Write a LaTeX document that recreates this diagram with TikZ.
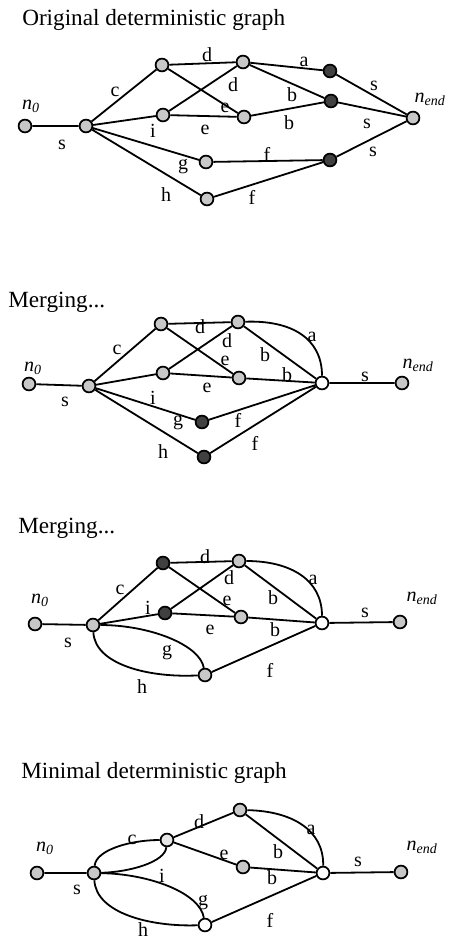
\documentclass[tikz,border=0pt]{standalone}
\usepackage{fontspec}
\setmainfont{Liberation Serif}
\definecolor{lgray}{HTML}{C8C8C8}
\definecolor{dgray}{HTML}{404040}
\definecolor{vlgray}{HTML}{E6E6E6}
\begin{document}
\begin{tikzpicture}[x=0.75pt,y=-0.75pt,
  nd/.style={circle,draw=black,line width=1.3pt,minimum size=9.6pt,inner sep=0pt,fill=lgray},
  dk/.style={nd,fill=dgray},
  wh/.style={nd,fill=white},
  vl/.style={nd,fill=vlgray},
  ed/.style={line width=1.35pt,black},
  lbl/.style={inner sep=0pt,font=\fontsize{15}{15}\selectfont},
  ttl/.style={inner sep=0pt,anchor=base west,font=\fontsize{17.4}{19}\selectfont}]
\useasboundingbox (0,0) rectangle (456,941);
\newcommand{\nzero}{\textit{n}\textsubscript{\textit{0}}}
\newcommand{\nend}{\textit{n}\textsubscript{\textit{end}}}

% ---------------- Panel 1
\node[ttl] (t1) at (22,26) {Original deterministic graph};
\node[nd] (a0) at (25,126) {};
\node[nd] (aA) at (86,126) {};
\node[nd] (aB) at (162,65) {};
\node[nd] (aC) at (163,115) {};
\node[nd] (aD) at (243,62) {};
\node[nd] (aE) at (244,117) {};
\node[dk] (aF) at (330,71) {};
\node[dk] (aG) at (331,101) {};
\node[nd] (aH) at (206,162) {};
\node[nd] (aI) at (207,199) {};
\node[dk] (aJ) at (330,160) {};
\node[nd] (aN) at (413,118) {};
\draw[ed] (a0)--(aA) (aA)--(aB) (aA)--(aC) (aA)--(aH) (aA)--(aI)
  (aB)--(aD) (aB)--(aE) (aC)--(aD) (aC)--(aE) (aD)--(aF) (aD)--(aG)
  (aE)--(aG) (aH)--(aJ) (aI)--(aJ) (aF)--(aN) (aG)--(aN) (aJ)--(aN);
\node[lbl] (la1) at (31,106) {\nzero};
\node[lbl] (la2) at (430,99) {\nend};
\node[lbl] (la3) at (62,145) {s};
\node[lbl] (la4) at (115,92) {c};
\node[lbl] (la5) at (153,131) {i};
\node[lbl] (la6) at (183,167) {g};
\node[lbl] (la7) at (166,195) {h};
\node[lbl] (la8) at (207,55) {d};
\node[lbl] (la9) at (225,108) {e};
\node[lbl] (la10) at (233,85) {d};
\node[lbl] (la11) at (205,130) {e};
\node[lbl] (la12) at (304,62) {a};
\node[lbl] (la13) at (292,95) {b};
\node[lbl] (la14) at (289,123) {b};
\node[lbl] (la15) at (267,154) {f};
\node[lbl] (la16) at (252,197) {f};
\node[lbl] (la17) at (374,86) {s};
\node[lbl] (la18) at (367,124) {s};
\node[lbl] (la19) at (373,152) {s};

% ---------------- Panel 2
\node[ttl] (t2) at (8,307) {Merging...};
\node[nd] (b0) at (29,384) {};
\node[nd] (bA) at (89,386) {};
\node[nd] (bB) at (161,324) {};
\node[nd] (bC) at (163,373) {};
\node[nd] (bD) at (238,322) {};
\node[nd] (bE) at (239,378) {};
\node[dk] (bG) at (202,422) {};
\node[dk] (bI) at (204,457) {};
\node[wh] (bK) at (322,383) {};
\node[nd] (bN) at (402,383) {};
\draw[ed] (b0)--(bA) (bA)--(bB) (bA)--(bC) (bA)--(bG) (bA)--(bI)
  (bB)--(bD) (bB)--(bE) (bC)--(bD) (bC)--(bE) (bD)--(bK) (bE)--(bK)
  (bG)--(bK) (bI)--(bK) (bK)--(bN);
\draw[ed] (bD) .. controls (291,320) and (322,338) .. (bK);
\node[lbl] (lb1) at (33,368) {\nzero};
\node[lbl] (lb2) at (418,365) {\nend};
\node[lbl] (lb3) at (65,402) {s};
\node[lbl] (lb4) at (117,350) {c};
\node[lbl] (lb5) at (200,327) {d};
\node[lbl] (lb6) at (227,341) {d};
\node[lbl] (lb7) at (225,361) {e};
\node[lbl] (lb8) at (207,388) {e};
\node[lbl] (lb9) at (153,398) {i};
\node[lbl] (lb10) at (178,423) {g};
\node[lbl] (lb11) at (163,452) {h};
\node[lbl] (lb12) at (265,355) {b};
\node[lbl] (lb13) at (287,375) {b};
\node[lbl] (lb14) at (312,337) {a};
\node[lbl] (lb15) at (238,420) {f};
\node[lbl] (lb16) at (255,443) {f};
\node[lbl] (lb17) at (365,377) {s};

% ---------------- Panel 3
\node[ttl] (t3) at (18,533) {Merging...};
\node[nd] (c0) at (35,624) {};
\node[nd] (cA) at (93,625) {};
\node[dk] (cB) at (163,563) {};
\node[dk] (cC) at (165,613) {};
\node[nd] (cD) at (239,561) {};
\node[nd] (cE) at (241,617) {};
\node[wh] (cK) at (322,623) {};
\node[nd] (cN) at (400,622) {};
\node[nd] (cI) at (205,675) {};
\draw[ed] (c0)--(cA) (cA)--(cB) (cA)--(cC) (cB)--(cD) (cB)--(cE)
  (cC)--(cD) (cC)--(cE) (cD)--(cK) (cE)--(cK) (cI)--(cK) (cK)--(cN);
\draw[ed] (cD) .. controls (291,561) and (322,580) .. (cK);
\draw[ed] (cA) .. controls (150,625) and (200,645) .. (cI);
\draw[ed] (cA) .. controls (95,665) and (150,678) .. (cI);
\node[lbl] (lc1) at (40,600) {\nzero};
\node[lbl] (lc2) at (422,598) {\nend};
\node[lbl] (lc3) at (68,643) {s};
\node[lbl] (lc4) at (120,590) {c};
\node[lbl] (lc5) at (148,608) {i};
\node[lbl] (lc6) at (205,557) {d};
\node[lbl] (lc7) at (229,578) {d};
\node[lbl] (lc8) at (227,601) {e};
\node[lbl] (lc9) at (210,630) {e};
\node[lbl] (lc10) at (273,598) {b};
\node[lbl] (lc11) at (275,630) {b};
\node[lbl] (lc12) at (313,580) {a};
\node[lbl] (lc13) at (167,653) {g};
\node[lbl] (lc14) at (142,687) {h};
\node[lbl] (lc15) at (270,670) {f};
\node[lbl] (lc16) at (365,613) {s};

% ---------------- Panel 4
\node[ttl] (t4) at (21,778) {Minimal deterministic graph};
\node[nd] (d0) at (37,873) {};
\node[nd] (dA) at (94,873) {};
\node[vl] (dC) at (167,840) {};
\node[nd] (dD) at (240,810) {};
\node[nd] (dE) at (243,867) {};
\node[wh] (dK) at (323,873) {};
\node[nd] (dN) at (401,872) {};
\node[wh] (dI) at (205,925) {};
\draw[ed] (d0)--(dA) (dC)--(dD) (dC)--(dE) (dD)--(dK) (dE)--(dK)
  (dI)--(dK) (dK)--(dN);
\draw[ed] (dA) .. controls (96,850) and (130,840) .. (dC);
\draw[ed] (dA) .. controls (130,872) and (165,862) .. (dC);
\draw[ed] (dD) .. controls (292,811) and (324,830) .. (dK);
\draw[ed] (dA) .. controls (150,874) and (200,893) .. (dI);
\draw[ed] (dA) .. controls (96,913) and (150,927) .. (dI);
\node[lbl] (ld1) at (45,848) {\nzero};
\node[lbl] (ld2) at (422,847) {\nend};
\node[lbl] (ld3) at (77,890) {s};
\node[lbl] (ld4) at (132,840) {c};
\node[lbl] (ld5) at (162,876) {i};
\node[lbl] (ld6) at (199,822) {d};
\node[lbl] (ld7) at (224,855) {e};
\node[lbl] (ld8) at (278,852) {b};
\node[lbl] (ld9) at (272,878) {b};
\node[lbl] (ld10) at (311,830) {a};
\node[lbl] (ld11) at (358,862) {s};
\node[lbl] (ld12) at (203,903) {g};
\node[lbl] (ld13) at (143,930) {h};
\node[lbl] (ld14) at (270,920) {f};
\end{tikzpicture}
\end{document}
